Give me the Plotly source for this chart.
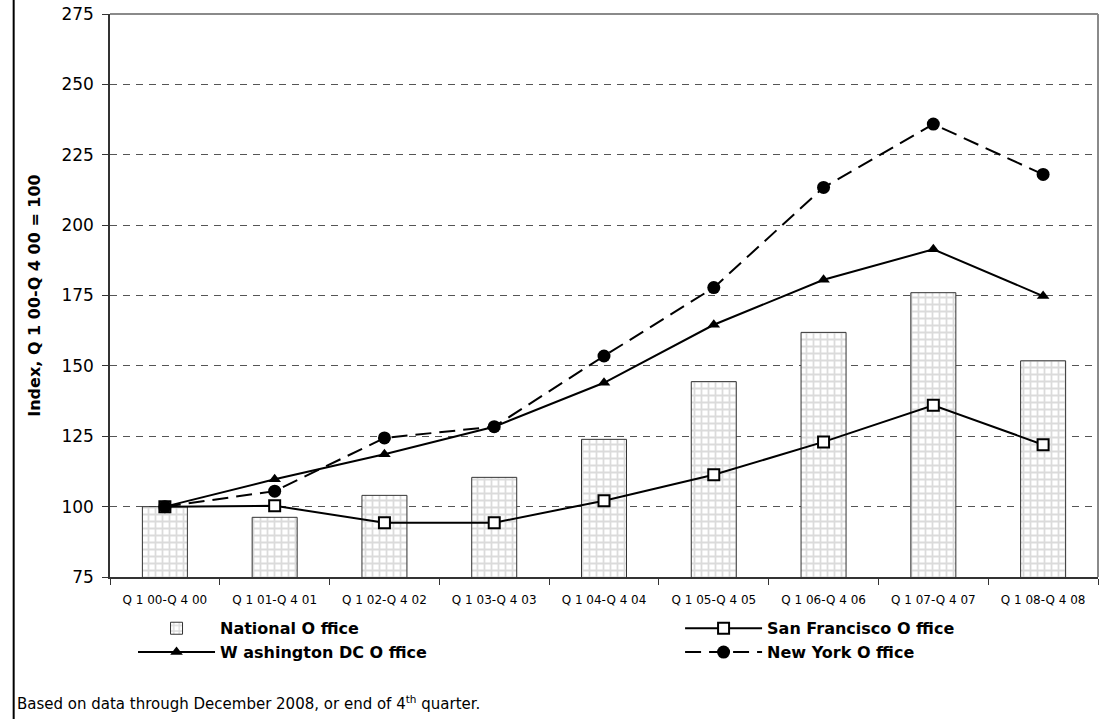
import plotly.graph_objects as go

categories = ["Q 1 00-Q 4 00", "Q 1 01-Q 4 01", "Q 1 02-Q 4 02", "Q 1 03-Q 4 03",
              "Q 1 04-Q 4 04", "Q 1 05-Q 4 05", "Q 1 06-Q 4 06", "Q 1 07-Q 4 07",
              "Q 1 08-Q 4 08"]
national = [100, 96.2, 104, 110.4, 123.9, 144.4, 161.9, 176, 151.8]
san_francisco = [100, 100.3, 94.3, 94.3, 102.1, 111.3, 123, 136, 122]
washington_dc = [100, 109.7, 118.6, 128.4, 144, 164.6, 180.6, 191.4, 174.8]
new_york = [100, 105.5, 124.4, 128.4, 153.5, 177.8, 213.4, 235.9, 218]
y_ticks = [75, 100, 125, 150, 175, 200, 225, 250, 275]

FONT = "DejaVu Sans"

fig = go.Figure()
fig.add_trace(go.Bar(
    x=categories, y=national, name="National O ffice", width=0.41, legend="legend",
    marker=dict(color="white", line=dict(color="#333333", width=1),
                pattern=dict(shape="+", fgcolor="#b8b8b8", bgcolor="white",
                             size=7, solidity=0.45)),
))
fig.add_trace(go.Scatter(
    x=categories, y=san_francisco, name="San Francisco O ffice", mode="lines+markers",
    legend="legend2",
    line=dict(color="black", width=2),
    marker=dict(symbol="square", size=11, color="white", line=dict(color="black", width=2)),
))
fig.add_trace(go.Scatter(
    x=categories, y=washington_dc, name="W ashington DC O ffice", mode="lines+markers",
    legend="legend",
    line=dict(color="black", width=2),
    marker=dict(symbol="triangle-up", size=11, color="black"),
))
fig.add_trace(go.Scatter(
    x=categories, y=new_york, name="New York O ffice", mode="lines+markers",
    legend="legend2",
    line=dict(color="black", width=2, dash="16px,8px"),
    marker=dict(symbol="circle", size=13, color="black"),
))

legend_common = dict(orientation="v", yanchor="top", xanchor="left", itemwidth=77,
                     font=dict(family=FONT, size=16, color="black", weight="bold"),
                     traceorder="normal", tracegroupgap=0, bgcolor="rgba(0,0,0,0)")

fig.update_layout(
    width=1111, height=719,
    margin=dict(l=110, r=13, t=14, b=142, autoexpand=False),
    paper_bgcolor="white", plot_bgcolor="white",
    font=dict(family=FONT, color="black"),
    showlegend=True,
    legend=dict(x=0.0233, y=-0.061, **legend_common),
    legend2=dict(x=0.577, y=-0.061, **legend_common),
    xaxis=dict(type="category", showgrid=False, showline=True, linecolor="#333333",
               linewidth=1.5, ticks="outside", tickson="boundaries", ticklen=6,
               tickcolor="#333333", tickfont=dict(family=FONT, size=12, color="black"),
               ticklabelstandoff=11, range=[-0.5, 8.5], automargin=False),
    yaxis=dict(range=[75, 275], tickvals=y_ticks, showgrid=True, gridcolor="#555555",
               griddash="7px,6px", gridwidth=1, showline=True, linecolor="#333333",
               linewidth=1.5, ticks="outside", ticklen=6, tickcolor="#333333",
               tickfont=dict(family=FONT, size=17, color="black"), zeroline=False,
               ticklabelstandoff=5, automargin=False,
               title=dict(text="Index, Q 1 00-Q 4 00 = 100", standoff=17,
                          font=dict(family=FONT, size=16, color="black", weight="bold"))),
    shapes=[
        dict(type="line", xref="paper", yref="paper", x0=0, x1=1, y0=1, y1=1,
             line=dict(color="#8a8a8a", width=2)),
        dict(type="line", xref="paper", yref="paper", x0=1, x1=1, y0=0, y1=1,
             line=dict(color="#8a8a8a", width=2)),
        dict(type="line", xref="paper", yref="paper", x0=-0.0975, x1=-0.0975,
             y0=1.03, y1=-0.26, line=dict(color="black", width=2)),
    ],
    annotations=[
        dict(text="Based on data through December 2008, or end of 4<sup>th</sup> quarter.",
             xref="paper", yref="paper", x=-0.096, y=-0.224, xanchor="left",
             yanchor="middle", showarrow=False,
             font=dict(family=FONT, size=15, color="black")),
    ],
)

fig.write_html("out.html", config={"displayModeBar": False},
               post_script="document.body.style.margin='0';document.body.style.overflow='hidden';")
